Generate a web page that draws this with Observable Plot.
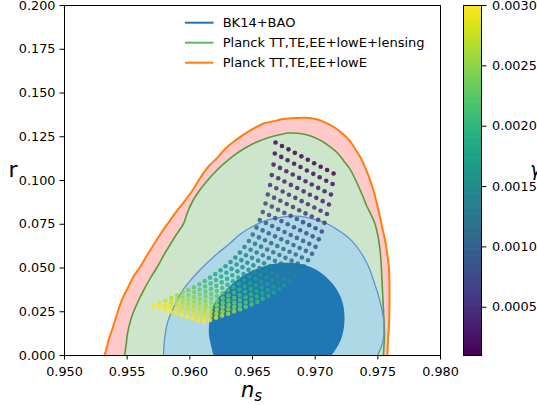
<!DOCTYPE html>
<html><head><meta charset="utf-8">
<script src="https://cdn.jsdelivr.net/npm/d3@7"></script>
<script src="https://cdn.jsdelivr.net/npm/@observablehq/plot@0.6"></script>
<style>
body{margin:0;background:#fff;}
#wrap{position:relative;width:537px;height:405px;overflow:hidden;font-family:"DejaVu Sans",sans-serif;}
#wrap > svg{position:absolute;left:0;top:0;}
</style></head><body><div id="wrap"></div>
<script>
// ---------- data ----------
const xTicks = [0.950, 0.955, 0.960, 0.965, 0.970, 0.975, 0.980];
const yTicks = [0.000, 0.025, 0.050, 0.075, 0.100, 0.125, 0.150, 0.175, 0.200];
const cbTicks = [0.0005, 0.0010, 0.0015, 0.0020, 0.0025, 0.0030];
const legendLabels = ["BK14+BAO", "Planck TT,TE,EE+lowE+lensing", "Planck TT,TE,EE+lowE"];

// Planck TT,TE,EE+lowE contour
const planckNs = [0.95319,0.95335,0.95351,0.95383,0.95423,0.95463,0.95503,0.95551,0.95606,0.95662,0.95718,0.95774,0.95830,0.95894,0.95950,0.96021,0.96085,0.96149,0.96221,0.96293,0.96364,0.96444,0.96524,0.96588,0.96660,0.96747,0.96843,0.96923,0.97003,0.97083,0.97154,0.97218,0.97274,0.97322,0.97362,0.97402,0.97434,0.97466,0.97490,0.97513,0.97537,0.97561,0.97577,0.97589,0.97593,0.97593,0.97589,0.97581,0.97577];
const planckR = [0,0.0040,0.0086,0.0154,0.0246,0.0326,0.0383,0.0451,0.0509,0.0577,0.0640,0.0703,0.0760,0.0823,0.0874,0.0943,0.1017,0.1080,0.1131,0.1189,0.1229,0.1269,0.1303,0.1326,0.1337,0.1351,0.1357,0.1358,0.1351,0.1331,0.1303,0.1269,0.1229,0.1177,0.1131,0.1069,0.1011,0.0943,0.0874,0.0806,0.0726,0.0646,0.0571,0.0497,0.0400,0.0286,0.0171,0.0086,0];

// Planck TT,TE,EE+lowE+lensing contour
const lensNs = [0.95479,0.95491,0.95503,0.95527,0.95555,0.95590,0.95630,0.95678,0.95738,0.95790,0.95846,0.95898,0.95950,0.95981,0.96021,0.96077,0.96141,0.96213,0.96293,0.96364,0.96428,0.96500,0.96564,0.96644,0.96724,0.96787,0.96859,0.96923,0.96995,0.97059,0.97122,0.97178,0.97226,0.97274,0.97314,0.97346,0.97378,0.97410,0.97442,0.97474,0.97497,0.97513,0.97525,0.97533,0.97541,0.97549,0.97553,0.97549,0.97545];
const lensR = [0,0.0057,0.0126,0.0200,0.0257,0.0314,0.0371,0.0434,0.0503,0.0571,0.0637,0.0697,0.0754,0.0817,0.0880,0.0943,0.1000,0.1057,0.1109,0.1149,0.1180,0.1209,0.1229,0.1249,0.1263,0.1271,0.1270,0.1263,0.1246,0.1223,0.1191,0.1157,0.1114,0.1069,0.1017,0.0966,0.0914,0.0857,0.0811,0.0760,0.0697,0.0629,0.0543,0.0429,0.0314,0.0200,0.0114,0.0057,0];

// BK14+BAO outer (95%) contour
const bkOuterNs = [0.95790,0.95794,0.95802,0.95818,0.95842,0.95870,0.95902,0.95942,0.96005,0.96069,0.96141,0.96221,0.96309,0.96404,0.96500,0.96588,0.96676,0.96763,0.96843,0.96923,0.97003,0.97083,0.97162,0.97234,0.97298,0.97354,0.97402,0.97442,0.97474,0.97505,0.97529,0.97545,0.97549,0.97545,0.97529,0.97497];
const bkOuterR = [0,0.0057,0.0114,0.0177,0.0229,0.0274,0.0320,0.0371,0.0429,0.0480,0.0531,0.0583,0.0634,0.0694,0.0737,0.0766,0.0783,0.0794,0.0797,0.0791,0.0777,0.0757,0.0726,0.0691,0.0651,0.0600,0.0543,0.0480,0.0411,0.0343,0.0274,0.0211,0.0160,0.0103,0.0051,0];

// BK14+BAO inner (68%) contour
const bkInnerNs = [0.96189,0.96169,0.96153,0.96153,0.96165,0.96189,0.96229,0.96277,0.96333,0.96404,0.96484,0.96564,0.96644,0.96724,0.96803,0.96883,0.96963,0.97043,0.97107,0.97162,0.97202,0.97226,0.97234,0.97230,0.97214,0.97178,0.97130];
const bkInnerR = [0,0.0057,0.0114,0.0171,0.0234,0.0286,0.0331,0.0366,0.0406,0.0446,0.0480,0.0503,0.0520,0.0529,0.0530,0.0523,0.0506,0.0474,0.0434,0.0389,0.0337,0.0280,0.0223,0.0166,0.0109,0.0051,0];

// model predictions, one row per gamma value
const gammaValues = [0.0001,0.0002,0.0003,0.0004,0.0005,0.0006,0.0007,0.0008,0.0009,0.0010,0.0011,0.0012,0.0013,0.0014,0.0015,0.0016,0.0017,0.0018,0.0019,0.0020,0.0021,0.0022,0.0023,0.0024,0.0025,0.0026,0.0027,0.0028,0.0029,0.0030];
const dotNs = [
[0.96684,0.96735,0.96787,0.96838,0.96890,0.96941,0.96992,0.97044,0.97095,0.97147],
[0.96678,0.96729,0.96780,0.96832,0.96883,0.96934,0.96985,0.97036,0.97088,0.97139],
[0.96668,0.96719,0.96770,0.96821,0.96872,0.96923,0.96973,0.97024,0.97075,0.97126],
[0.96654,0.96705,0.96755,0.96806,0.96857,0.96908,0.96958,0.97009,0.97060,0.97110],
[0.96640,0.96690,0.96741,0.96791,0.96842,0.96892,0.96942,0.96993,0.97043,0.97094],
[0.96622,0.96672,0.96722,0.96773,0.96823,0.96873,0.96923,0.96973,0.97024,0.97074],
[0.96604,0.96654,0.96704,0.96754,0.96804,0.96854,0.96903,0.96953,0.97003,0.97053],
[0.96582,0.96632,0.96681,0.96731,0.96781,0.96831,0.96880,0.96930,0.96980,0.97029],
[0.96558,0.96607,0.96657,0.96706,0.96756,0.96805,0.96854,0.96904,0.96953,0.97003],
[0.96532,0.96581,0.96630,0.96680,0.96729,0.96778,0.96827,0.96876,0.96926,0.96975],
[0.96502,0.96551,0.96600,0.96649,0.96698,0.96747,0.96796,0.96845,0.96894,0.96943],
[0.96471,0.96520,0.96568,0.96617,0.96666,0.96715,0.96763,0.96812,0.96861,0.96909],
[0.96436,0.96485,0.96533,0.96582,0.96630,0.96679,0.96727,0.96776,0.96824,0.96873],
[0.96400,0.96448,0.96496,0.96545,0.96593,0.96641,0.96689,0.96737,0.96786,0.96834],
[0.96363,0.96411,0.96459,0.96507,0.96555,0.96603,0.96651,0.96699,0.96747,0.96795],
[0.96325,0.96373,0.96420,0.96468,0.96516,0.96564,0.96611,0.96659,0.96707,0.96754],
[0.96285,0.96333,0.96380,0.96428,0.96475,0.96523,0.96570,0.96618,0.96665,0.96713],
[0.96245,0.96292,0.96339,0.96387,0.96434,0.96481,0.96528,0.96575,0.96623,0.96670],
[0.96203,0.96250,0.96297,0.96344,0.96391,0.96438,0.96485,0.96532,0.96579,0.96626],
[0.96161,0.96208,0.96254,0.96301,0.96348,0.96395,0.96441,0.96488,0.96535,0.96581],
[0.96119,0.96166,0.96212,0.96259,0.96305,0.96352,0.96398,0.96445,0.96491,0.96538],
[0.96076,0.96122,0.96169,0.96215,0.96261,0.96308,0.96354,0.96400,0.96446,0.96493],
[0.96032,0.96078,0.96124,0.96170,0.96216,0.96262,0.96308,0.96354,0.96400,0.96446],
[0.95988,0.96034,0.96080,0.96125,0.96171,0.96217,0.96263,0.96309,0.96354,0.96400],
[0.95943,0.95989,0.96034,0.96080,0.96125,0.96171,0.96216,0.96262,0.96307,0.96353],
[0.95898,0.95943,0.95989,0.96034,0.96079,0.96125,0.96170,0.96215,0.96260,0.96306],
[0.95852,0.95897,0.95942,0.95987,0.96032,0.96077,0.96122,0.96167,0.96212,0.96257],
[0.95806,0.95851,0.95896,0.95940,0.95985,0.96030,0.96075,0.96120,0.96164,0.96209],
[0.95760,0.95805,0.95849,0.95894,0.95938,0.95983,0.96027,0.96072,0.96116,0.96161],
[0.95713,0.95757,0.95802,0.95846,0.95890,0.95935,0.95979,0.96023,0.96067,0.96112]
];
const dotR = [
[0.1217,0.1197,0.1178,0.1158,0.1138,0.1119,0.1099,0.1079,0.1060,0.1040],
[0.1154,0.1135,0.1116,0.1096,0.1077,0.1057,0.1038,0.1019,0.0999,0.0980],
[0.1091,0.1072,0.1053,0.1034,0.1015,0.0996,0.0977,0.0958,0.0939,0.0920],
[0.1031,0.1013,0.0994,0.0975,0.0957,0.0938,0.0919,0.0901,0.0882,0.0863],
[0.0974,0.0956,0.0937,0.0919,0.0901,0.0882,0.0864,0.0846,0.0827,0.0809],
[0.0920,0.0902,0.0884,0.0866,0.0848,0.0830,0.0812,0.0794,0.0776,0.0758],
[0.0869,0.0851,0.0833,0.0815,0.0798,0.0780,0.0762,0.0745,0.0727,0.0709],
[0.0820,0.0803,0.0785,0.0768,0.0750,0.0733,0.0716,0.0698,0.0681,0.0664],
[0.0774,0.0757,0.0740,0.0723,0.0706,0.0689,0.0672,0.0655,0.0638,0.0621],
[0.0731,0.0715,0.0698,0.0681,0.0664,0.0648,0.0631,0.0614,0.0598,0.0581],
[0.0691,0.0675,0.0659,0.0642,0.0626,0.0609,0.0593,0.0577,0.0560,0.0544],
[0.0654,0.0638,0.0622,0.0606,0.0590,0.0574,0.0558,0.0542,0.0526,0.0510],
[0.0620,0.0604,0.0589,0.0573,0.0557,0.0541,0.0526,0.0510,0.0494,0.0478],
[0.0589,0.0573,0.0558,0.0542,0.0527,0.0511,0.0496,0.0481,0.0465,0.0450],
[0.0560,0.0545,0.0530,0.0515,0.0500,0.0485,0.0469,0.0454,0.0439,0.0424],
[0.0534,0.0520,0.0505,0.0490,0.0475,0.0461,0.0446,0.0431,0.0416,0.0401],
[0.0510,0.0495,0.0481,0.0466,0.0452,0.0438,0.0423,0.0409,0.0394,0.0380],
[0.0487,0.0473,0.0459,0.0445,0.0430,0.0416,0.0402,0.0388,0.0374,0.0360],
[0.0465,0.0451,0.0438,0.0424,0.0410,0.0396,0.0382,0.0369,0.0355,0.0341],
[0.0445,0.0431,0.0418,0.0404,0.0391,0.0377,0.0364,0.0350,0.0337,0.0324],
[0.0425,0.0412,0.0399,0.0386,0.0373,0.0360,0.0346,0.0333,0.0320,0.0307],
[0.0407,0.0394,0.0381,0.0368,0.0356,0.0343,0.0330,0.0317,0.0304,0.0292],
[0.0390,0.0377,0.0365,0.0352,0.0340,0.0327,0.0315,0.0302,0.0290,0.0278],
[0.0374,0.0362,0.0349,0.0337,0.0325,0.0313,0.0301,0.0289,0.0277,0.0264],
[0.0358,0.0346,0.0335,0.0323,0.0311,0.0299,0.0287,0.0276,0.0264,0.0252],
[0.0343,0.0331,0.0320,0.0308,0.0297,0.0285,0.0274,0.0262,0.0251,0.0239],
[0.0328,0.0317,0.0306,0.0295,0.0283,0.0272,0.0261,0.0250,0.0239,0.0228],
[0.0313,0.0302,0.0291,0.0281,0.0270,0.0259,0.0248,0.0237,0.0227,0.0216],
[0.0298,0.0287,0.0277,0.0266,0.0256,0.0245,0.0235,0.0224,0.0214,0.0203],
[0.0282,0.0272,0.0262,0.0252,0.0242,0.0231,0.0221,0.0211,0.0201,0.0191]
];

// ---------- build tables ----------
const toPts = (ns, r) => ns.map((v, i) => ({ns: v, r: r[i]}));
const planck = toPts(planckNs, planckR);
const lens = toPts(lensNs, lensR);
const bkOuter = toPts(bkOuterNs, bkOuterR);
const bkInner = toPts(bkInnerNs, bkInnerR);
const dots = [];
gammaValues.forEach((g, i) => dotNs[i].forEach((v, j) => dots.push({ns: v, r: dotR[i][j], gamma: g})));

const W = 537, H = 405;
const font = '"DejaVu Sans", sans-serif';
const cDomain = [0.0001, 0.003];

const main = Plot.plot({
  width: W, height: H,
  marginLeft: 64, marginRight: 97, marginTop: 5, marginBottom: 50,
  style: {fontFamily: font, fontSize: "12.8px", color: "#000", background: "#fff"},
  x: {domain: [0.95, 0.98], label: null},
  y: {domain: [0, 0.2], label: null},
  color: {type: "linear", scheme: "viridis", domain: cDomain},
  marks: [
    Plot.line(planck, {x: "ns", y: "r", fill: "#ffc9c9", stroke: "none", curve: "catmull-rom"}),
    Plot.line(lens, {x: "ns", y: "r", fill: "#cde5cb", stroke: "none", curve: "catmull-rom"}),
    Plot.line(bkOuter, {x: "ns", y: "r", fill: "#add8e6", stroke: "none", curve: "catmull-rom"}),
    Plot.line(bkInner, {x: "ns", y: "r", fill: "#1f77b4", stroke: "none", curve: "catmull-rom"}),
    Plot.line(planck, {x: "ns", y: "r", stroke: "#ff7f0e", strokeWidth: 2, curve: "catmull-rom"}),
    Plot.line(lens, {x: "ns", y: "r", stroke: "#5a9a3b", strokeWidth: 1.6, curve: "catmull-rom"}),
    Plot.line(bkOuter, {x: "ns", y: "r", stroke: "#6390d4", strokeWidth: 1.3, curve: "catmull-rom"}),
    Plot.dot(dots, {x: "ns", y: "r", fill: "gamma", r: 2.3, fillOpacity: 0.85, stroke: "none"}),
    Plot.frame({stroke: "#000", strokeWidth: 1}),
    Plot.axisX({ticks: xTicks, tickFormat: d3.format(".3f"), tickSize: 4.5, tickPadding: 7, label: null}),
    Plot.axisY({ticks: yTicks, tickFormat: d3.format(".3f"), tickSize: 4.5, tickPadding: 4.5, label: null})
  ]
});

// colorbar
const nb = 300, step = (cDomain[1] - cDomain[0]) / nb;
const bands = d3.range(nb).map(i => ({x1: 0, x2: 1, y1: cDomain[0] + i * step, y2: Math.min(cDomain[1], cDomain[0] + (i + 1.6) * step), v: cDomain[0] + (i + 0.5) * step}));
const cbar = Plot.plot({
  width: W, height: H,
  marginLeft: 463, marginRight: 56, marginTop: 5, marginBottom: 50,
  style: {fontFamily: font, fontSize: "12.8px", color: "#000", background: "transparent"},
  x: {domain: [0, 1], axis: null},
  y: {domain: cDomain, axis: null},
  color: {type: "linear", scheme: "viridis", domain: cDomain},
  marks: [
    Plot.rect(bands, {x1: "x1", x2: "x2", y1: "y1", y2: "y2", fill: "v"}),
    Plot.frame({stroke: "#000", strokeWidth: 1}),
    Plot.axisY({anchor: "right", ticks: cbTicks, tickFormat: d3.format(".4f"), tickSize: 4.5, tickPadding: 6, label: null})
  ]
});

const wrap = document.getElementById("wrap");
wrap.appendChild(main);
wrap.appendChild(cbar);

// legend and axis labels (text)
const svg = d3.select(main);
const legColors = ["#1f77b4", "#5cb85c", "#ff7f0e"];
const lg = svg.append("g").attr("font-family", font).attr("font-size", 13).attr("text-anchor", "start");
legendLabels.forEach((t, i) => {
  const y = 22.7 + 20 * i;
  lg.append("line").attr("x1", 185).attr("x2", 213.5).attr("y1", y).attr("y2", y)
    .attr("stroke", legColors[i]).attr("stroke-width", 2);
  lg.append("text").attr("x", 222.7).attr("y", y + 4.6).attr("fill", "#000").text(t);
});
svg.append("text").attr("x", 8.5).attr("y", 177).attr("text-anchor", "start").attr("font-family", font).attr("font-size", 22).attr("fill", "#000").text("r");
const xl = svg.append("text").attr("x", 241).attr("y", 396.5).attr("text-anchor", "start").attr("font-family", font).attr("font-size", 21).attr("fill", "#000");
xl.append("tspan").attr("font-style", "italic").text("n");
xl.append("tspan").attr("font-style", "italic").attr("font-size", 15).attr("dy", 4).text("s");
d3.select(cbar).append("text").attr("x", 530).attr("y", 176).attr("text-anchor", "start").attr("font-family", font).attr("font-size", 19).attr("font-style", "italic").attr("fill", "#000").text("γ");
</script></body></html>
